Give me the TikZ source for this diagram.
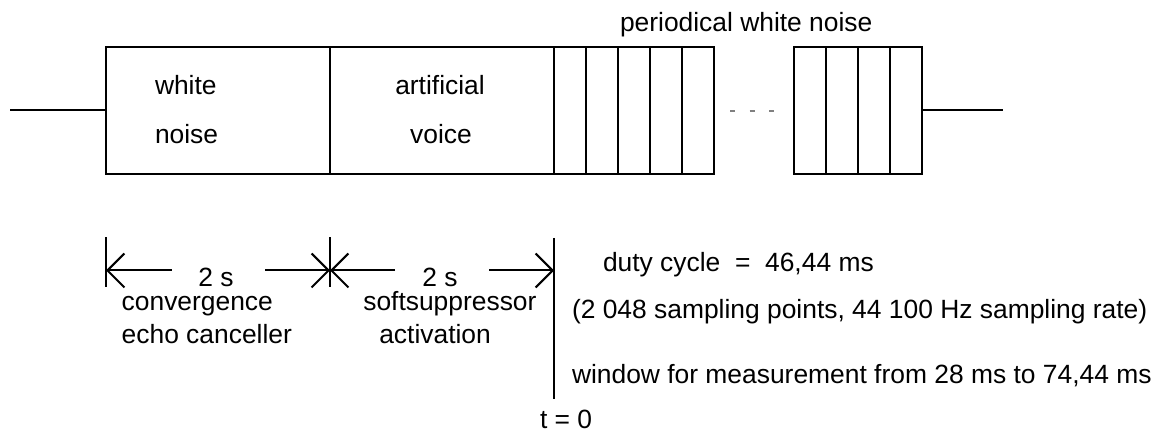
\documentclass[tikz,border=0pt]{standalone}
\usepackage{fontspec}
\setmainfont{Liberation Sans}
\usetikzlibrary{arrows.meta}
\begin{document}
\begin{tikzpicture}[x=0.5pt,y=-0.5pt,
  every node/.style={inner sep=0pt,outer sep=0pt,font=\fontsize{13.2pt}{15pt}\selectfont},
  bigbox/.style={draw,line width=1pt,minimum width=112pt,minimum height=63.65pt},
  cell/.style={draw,line width=1pt,minimum width=16pt,minimum height=63.65pt},
  wire/.style={line width=1pt},
  lbl/.style={anchor=base west},
  dimline/.style={line width=1pt,-{Straight Barb[length=8.5pt,width=17pt]}},
  tick/.style={line width=1pt},
  gapdash/.style={draw=gray,line width=0.6pt,dash pattern=on 2.5pt off 7.35pt}
]
\useasboundingbox (0,0) rectangle (1168,432);
% signal blocks
\node[bigbox] (wn) at (218,110.35) {};
\node[bigbox] (av) at (442,110.35) {};
\foreach \i/\x in {1/570,2/602,3/634,4/666,5/698}
  \node[cell] (c\i) at (\x,110.35) {};
\foreach \i/\x in {1/810,2/842,3/874,4/906}
  \node[cell] (r\i) at (\x,110.35) {};
\coordinate (lstart) at (10,110.35);
\coordinate (rend) at (1003,110.35);
\draw[wire] (lstart) -- (wn.west);
\draw[wire] (r4.east) -- (rend);
\coordinate (d1) at (730,111);
\coordinate (d2) at (775,111);
\draw[gapdash] (d1) -- (d2);
% block texts
\node[lbl] (tper) at (620,31.7) {periodical white noise};
\node[lbl] (tw1) at (155,95) {white};
\node[lbl] (tw2) at (155,143.3) {noise};
\node[anchor=base] (ta1) at (440,95) {artificial};
\node[anchor=base] (ta2) at (441,143.3) {voice};
% time axis
\coordinate (k0a) at (106,237.5); \coordinate (k0b) at (106,287);
\coordinate (k1a) at (330,237.5); \coordinate (k1b) at (330,287);
\coordinate (k2a) at (554,238); \coordinate (k2b) at (554,399);
\draw[tick] (k0a) -- (k0b);
\draw[tick] (k1a) -- (k1b);
\draw[tick] (k2a) -- (k2b);
\coordinate (p0) at (106,270.5);
\coordinate (p1) at (330,270.5);
\coordinate (p2) at (554,270.5);
\node[anchor=base,inner xsep=12pt] (s1) at (216,286.7) {2 s};
\node[anchor=base,inner xsep=12pt] (s2) at (440,286.7) {2 s};
\coordinate (s1w) at (171.7,270.5); \coordinate (s1e) at (265,270.5);
\coordinate (s2w) at (395,270.5); \coordinate (s2e) at (489,270.5);
\draw[dimline] (s1w) -- (p0);
\draw[dimline] (s1e) -- (p1);
\draw[dimline] (s2w) -- (p1);
\draw[dimline] (s2e) -- (p2);
\node[lbl] (tc1) at (121.7,310.7) {convergence};
\node[lbl] (tc2) at (121.7,344) {echo canceller};
\node[lbl] (ts1) at (363.3,310.7) {softsuppressor};
\node[lbl] (ts2) at (379.3,344) {activation};
\node[lbl] (tt0) at (540,429) {t = 0};
\node[lbl] (td1) at (603,271.7) {duty cycle\ \ =\ \ 46,44 ms};
\node[lbl] (td2) at (572,319) {(2 048 sampling points, 44 100 Hz sampling rate)};
\node[lbl] (td3) at (572,384) {window for measurement from 28 ms to 74,44 ms};
\end{tikzpicture}
\end{document}
